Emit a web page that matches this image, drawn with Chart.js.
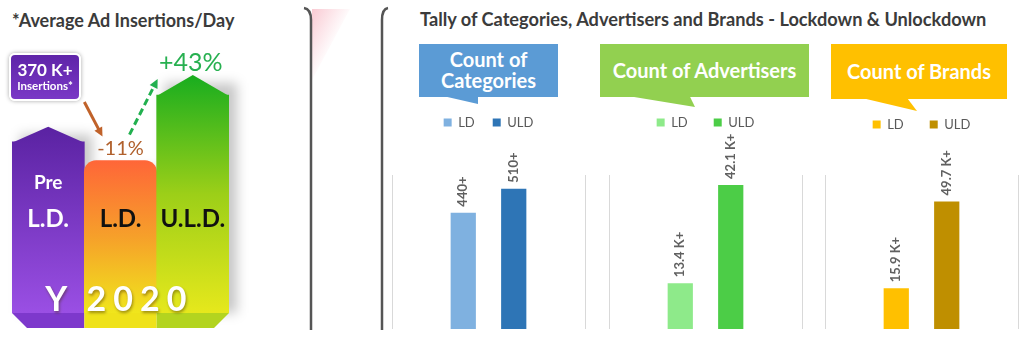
<!DOCTYPE html>
<html>
<head>
<meta charset="utf-8">
<title>Ad insertions and tally - lockdown vs unlockdown</title>
<script src="https://cdn.jsdelivr.net/npm/chart.js@4.4.0/dist/chart.umd.min.js"></script>
<style>
  body { margin: 0; width: 1024px; height: 349px; background: #fff; overflow: hidden; position: relative; font-family: Lato, "Open Sans", sans-serif; }
  .abs { position: absolute; }
  .heading { position: absolute; font-weight: bold; color: #3b3b3b; white-space: nowrap; }
  #leftTitle { left: 12px; top: 9px; font-size: 18px; }
  #rightTitle { left: 420px; top: 8px; font-size: 18.2px; }
  #callout370 { left: 9px; top: 53px; width: 68px; height: 44px; border: 2px solid #fff; border-radius: 6px;
    background: linear-gradient(#5e24a8, #7a38c6); box-shadow: 0 0 4px rgba(0,0,0,0.35);
    color: #fff; font-weight: bold; text-align: center; }
  #callout370 .big { font-size: 17px; line-height: 19px; margin-top: 5px; }
  #callout370 .small { font-size: 11.5px; line-height: 14px; }
  .bubble { position: absolute; color: #fff; font-weight: bold; font-size: 20px; text-align: center; }
  .wedge { position: absolute; }
</style>
</head>
<body>

<svg class="abs" width="1024" height="349" style="left:0;top:0">
  <defs>
    <linearGradient id="pinkFade" x1="0" y1="0" x2="1" y2="1">
      <stop offset="0" stop-color="#f6a7b6" stop-opacity="0.6"/>
      <stop offset="0.55" stop-color="#f6a7b6" stop-opacity="0"/>
    </linearGradient>
  </defs>
  <polygon points="312,9 350,9 312,80" fill="url(#pinkFade)"/>
  <path d="M304,8 Q311,9 311,20 L311,330" fill="none" stroke="#555" stroke-width="2.5"/>
  <path d="M388,8 Q382,9 382,20 L382,330" fill="none" stroke="#555" stroke-width="2.5"/>
</svg>

<div id="leftTitle" class="heading">*Average Ad Insertions/Day</div>
<div id="rightTitle" class="heading">Tally of Categories, Advertisers and Brands - Lockdown &amp; Unlockdown</div>

<canvas id="insertChart" class="abs" width="300" height="349" style="left:0;top:0"></canvas>
<div id="callout370" class="abs"><div class="big" id="calloutValue"></div><div class="small">Insertions*</div></div>

<div class="bubble" style="left:419px;top:44px;width:139px;height:53px;background:#5b9bd5;line-height:21px;padding-top:5px;box-sizing:border-box">Count of<br>Categories</div>
<div class="wedge" style="left:443px;top:96px;width:35px;height:8px;background:#5b9bd5;clip-path:polygon(0 0,100% 100%,100% 0)"></div>

<div class="bubble" style="left:600px;top:44px;width:209px;height:53px;background:#92d050;line-height:53px">Count of Advertisers</div>
<div class="wedge" style="left:628px;top:96px;width:67px;height:11px;background:#92d050;clip-path:polygon(0 0,100% 100%,92% 0)"></div>

<div class="bubble" style="left:831px;top:44px;width:176px;height:55px;background:#ffc000;line-height:55px">Count of Brands</div>
<div class="wedge" style="left:862px;top:98px;width:55px;height:13px;background:#ffc000;clip-path:polygon(0 0,100% 100%,82% 0)"></div>

<canvas id="catChart" class="abs" width="194" height="252" style="left:392px;top:80px"></canvas>
<canvas id="advChart" class="abs" width="194" height="252" style="left:609px;top:80px"></canvas>
<canvas id="brandChart" class="abs" width="194" height="252" style="left:825px;top:80px"></canvas>

<script>
/* ---------------- data ---------------- */

const stageLabels = [['Pre', 'L.D.'], ['L.D.'], ['U.L.D.']];
const preLockdownInsertions = 370;      // K insertions per day
const stageChanges = [-11, 43];         // % change vs previous stage
const yearLabel = 'Y 2020';

const seriesNames = ['LD', 'ULD'];
const categoryCounts = [440, 510];
const advertiserCounts = [13.4, 42.1];  // K
const brandCounts = [15.9, 49.7];       // K

// each stage follows from the one before it
const insertions = [preLockdownInsertions];
stageChanges.forEach(p => insertions.push(insertions[insertions.length - 1] * (1 + p / 100)));

/* ---------------- left: insertions per day ---------------- */

const stageStops = [
  ['#5a22a2', '#9a4fe4'],
  ['#ff6638', '#f6a02a', '#f0e61c'],
  ['#18ad1f', '#9ccf18', '#e6e81c']
];
const roofHeights = [15, 0, 20];
const bevelColors = ['#7d38cc', '#efe21a', '#b3d41f'];
const labelColors = ['#ffffff', '#111111', '#111111'];

function stageFill(chart, i, top) {
  const stops = stageStops[i];
  const g = chart.ctx.createLinearGradient(0, top, 0, chart.chartArea.bottom);
  stops.forEach((c, k) => g.addColorStop(k / (stops.length - 1), c));
  return g;
}

function fmtChange(p) {
  return (p > 0 ? '+' : '-') + Math.abs(p) + '%';
}

function drawArrow(ctx, x1, y1, x2, y2, color, dash) {
  const a = Math.atan2(y2 - y1, x2 - x1);
  const h = 10;
  ctx.save();
  ctx.strokeStyle = color;
  ctx.fillStyle = color;
  ctx.lineWidth = 3;
  ctx.setLineDash(dash);
  ctx.beginPath();
  ctx.moveTo(x1, y1);
  ctx.lineTo(x2 - Math.cos(a) * h * 0.7, y2 - Math.sin(a) * h * 0.7);
  ctx.stroke();
  ctx.setLineDash([]);
  ctx.beginPath();
  ctx.moveTo(x2, y2);
  ctx.lineTo(x2 - h * Math.cos(a - 0.45), y2 - h * Math.sin(a - 0.45));
  ctx.lineTo(x2 - h * Math.cos(a + 0.45), y2 - h * Math.sin(a + 0.45));
  ctx.closePath();
  ctx.fill();
  ctx.restore();
}

const stageDecor = {
  id: 'stageDecor',
  beforeDatasetsDraw(chart) {
    // soft shadow to the right of each column
    const ctx = chart.ctx;
    const bottom = chart.chartArea.bottom;
    ctx.save();
    ctx.filter = 'blur(6px)';
    ctx.fillStyle = 'rgba(0,0,0,0.22)';
    chart.getDatasetMeta(0).data.forEach((bar, i) => {
      const top = bar.y - roofHeights[i] + 8;
      ctx.fillRect(bar.x - bar.width / 2 + 8, top, bar.width, bottom - top);
    });
    ctx.restore();
  },
  afterDatasetsDraw(chart) {
    const ctx = chart.ctx;
    const bottom = chart.chartArea.bottom;
    const bars = chart.getDatasetMeta(0).data;

    bars.forEach((bar, i) => {
      const { x, y, width } = bar.getProps(['x', 'y', 'width'], true);
      const l = x - width / 2, r = x + width / 2;

      // pointed roof
      if (roofHeights[i]) {
        ctx.beginPath();
        ctx.moveTo(l, y + 1);
        ctx.lineTo(x, y - roofHeights[i]);
        ctx.lineTo(r, y + 1);
        ctx.closePath();
        ctx.fillStyle = stageFill(chart, i, y - roofHeights[i]);
        ctx.fill();
      }

      // bevelled foot
      ctx.beginPath();
      if (i === 0) {
        ctx.moveTo(l, bottom); ctx.lineTo(r, bottom); ctx.lineTo(r, bottom + 15); ctx.lineTo(l + 15, bottom + 15);
      } else if (i === 2) {
        ctx.moveTo(l, bottom); ctx.lineTo(r, bottom); ctx.lineTo(r - 15, bottom + 15); ctx.lineTo(l, bottom + 15);
      } else {
        ctx.rect(l, bottom, width, 15);
      }
      ctx.closePath();
      ctx.fillStyle = bevelColors[i];
      ctx.fill();

      // stage name
      ctx.save();
      ctx.textAlign = 'center';
      ctx.textBaseline = 'middle';
      ctx.fillStyle = labelColors[i];
      const lines = stageLabels[i];
      lines.forEach((t, k) => {
        const last = k === lines.length - 1;
        ctx.font = 'bold ' + (last ? 24 : 19) + 'px Lato';
        ctx.fillText(t, x, last ? 219 : 183);
      });
      ctx.restore();
    });

    // year across the feet
    const [yPart, yearPart] = yearLabel.split(' ');
    ctx.save();
    ctx.font = 'bold 34px Lato';
    ctx.fillStyle = '#ffffff';
    ctx.textBaseline = 'middle';
    ctx.shadowColor = 'rgba(60,40,0,0.45)';
    ctx.shadowBlur = 3;
    ctx.shadowOffsetX = 1;
    ctx.shadowOffsetY = 2;
    ctx.textAlign = 'center';
    ctx.fillText(yPart, bars[0].x + 8, 300);
    ctx.textAlign = 'left';
    ctx.letterSpacing = '7px';
    ctx.fillText(yearPart, bars[1].x - 34, 300);
    ctx.restore();

    // change arrows
    const b0 = bars[0], b1 = bars[1], b2 = bars[2];
    drawArrow(ctx, b0.x + b0.width / 2, 102, b1.x - 18, b1.y - 24, '#c0622a', []);
    drawArrow(ctx, b1.x + 9, b1.y - 26, b2.x - b2.width / 2 + 1, b2.y - 16, '#22b04f', [7, 4]);

    ctx.save();
    ctx.textAlign = 'center';
    ctx.textBaseline = 'middle';
    ctx.font = '20px Lato';
    ctx.fillStyle = '#b0602c';
    ctx.fillText(fmtChange(stageChanges[0]), b1.x, b1.y - 12);
    ctx.font = '25px Lato';
    ctx.fillStyle = '#27b050';
    ctx.fillText(fmtChange(stageChanges[1]), b2.x - 2, b2.y - 32);
    ctx.restore();
  }
};

document.getElementById('calloutValue').textContent = preLockdownInsertions + ' K+';

new Chart(document.getElementById('insertChart'), {
  type: 'bar',
  data: {
    labels: stageLabels.map(l => l.join(' ')),
    datasets: [{
      data: insertions,
      backgroundColor(c) {
        const chart = c.chart;
        if (!chart.chartArea) return stageStops[c.dataIndex][0];
        const top = chart.scales.y.getPixelForValue(insertions[c.dataIndex]) - roofHeights[c.dataIndex];
        return stageFill(chart, c.dataIndex, top);
      },
      borderRadius(c) {
        return c.dataIndex === 1 ? { topLeft: 12, topRight: 12, bottomLeft: 0, bottomRight: 0 } : 0;
      },
      borderSkipped: 'bottom',
      categoryPercentage: 1,
      barPercentage: 1
    }]
  },
  options: {
    responsive: false,
    animation: false,
    devicePixelRatio: 1,
    layout: { padding: { left: 12, right: 71, top: 70, bottom: 36 } },
    plugins: { legend: { display: false }, tooltip: { enabled: false } },
    scales: {
      x: { display: false },
      y: { display: false, min: 0, max: 525 }
    }
  },
  plugins: [stageDecor]
});

/* ---------------- right: tallies ---------------- */

// pushes the plot area down below the legend
const legendSpace = {
  id: 'legendSpace',
  beforeInit(chart, args, opts) {
    const fit = chart.legend.fit;
    chart.legend.fit = function () {
      fit.call(this);
      this.height = opts.height;
    };
  }
};

// rotated value labels on top of each bar
const valueLabels = {
  id: 'valueLabels',
  afterDatasetsDraw(chart, args, opts) {
    const ctx = chart.ctx;
    ctx.save();
    ctx.font = 'bold 13px Lato';
    ctx.fillStyle = '#606060';
    ctx.textAlign = 'left';
    ctx.textBaseline = 'middle';
    chart.data.datasets.forEach((ds, di) => {
      chart.getDatasetMeta(di).data.forEach((bar, i) => {
        ctx.save();
        ctx.translate(bar.x, bar.y - 6);
        ctx.rotate(-Math.PI / 2);
        ctx.fillText(ds.data[i] + opts.suffix, 0, 0);
        ctx.restore();
      });
    });
    ctx.restore();
  }
};

function makeTally(id, values, colors, yMin, yMax, suffix, legendPad, padTop) {
  return new Chart(document.getElementById(id), {
    type: 'bar',
    data: {
      labels: [''],
      datasets: seriesNames.map((name, i) => ({
        label: name,
        data: [values[i]],
        backgroundColor: colors[i],
        categoryPercentage: 0.523,
        barPercentage: 0.5
      }))
    },
    options: {
      responsive: false,
      animation: false,
      devicePixelRatio: 1,
      layout: { padding: { top: padTop, bottom: 3, right: 1 } },
      plugins: {
        legend: {
          labels: {
            boxWidth: 8, boxHeight: 8, padding: legendPad,
            color: '#595959', font: { family: 'Lato', size: 13 }
          }
        },
        tooltip: { enabled: false },
        legendSpace: { height: 95 - padTop },
        valueLabels: { suffix }
      },
      scales: {
        x: {
          grid: { color: '#d9d9d9', drawTicks: false, offset: true },
          ticks: { display: false },
          border: { display: false }
        },
        y: { display: false, min: yMin, max: yMax }
      }
    },
    plugins: [legendSpace, valueLabels]
  });
}

makeTally('catChart', categoryCounts, ['#7fb1e0', '#2e75b6'], 100, 550, '+', 18, 18);
makeTally('advChart', advertiserCounts, ['#8eea8a', '#4ccd47'], 0, 45, ' K+', 26, 10);
makeTally('brandChart', brandCounts, ['#ffc000', '#bf8f00'], 0, 60, ' K+', 26, 12);
</script>
</body>
</html>
